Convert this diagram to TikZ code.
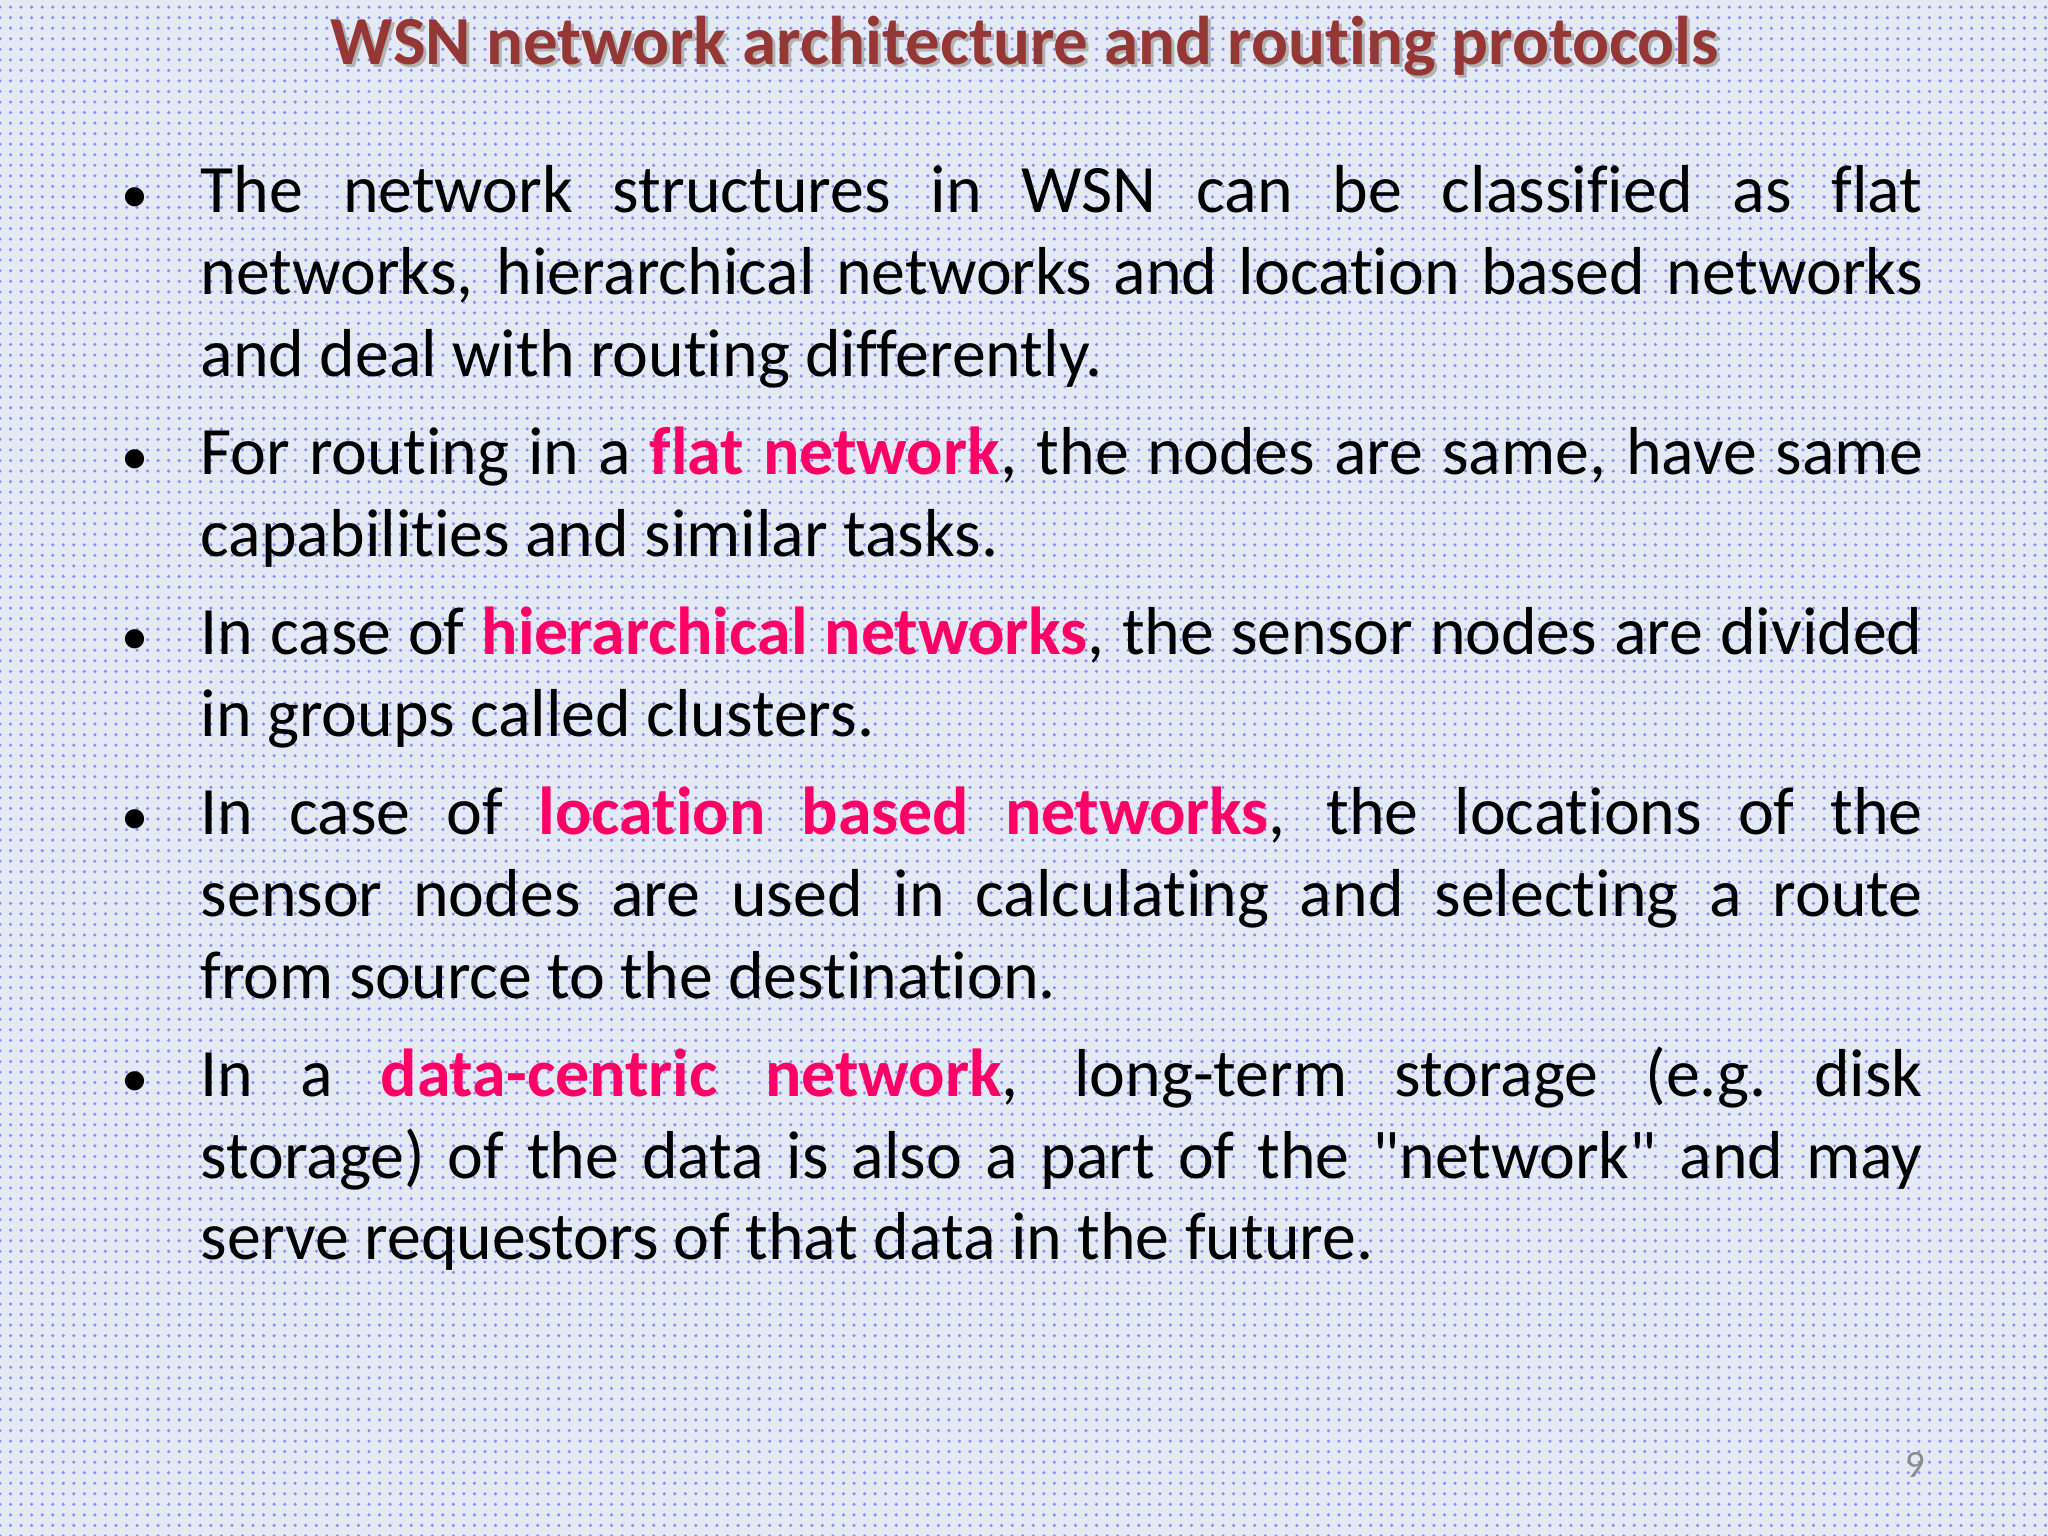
\documentclass[tikz,border=0pt]{standalone}
\usepackage{fontspec}
\setmainfont{Carlito}[Ligatures=NoCommon]
\newfontfamily\plainf{Carlito}[Ligatures=TeXOff]
\usetikzlibrary{patterns}
\definecolor{ttl}{HTML}{953735}
\definecolor{hl}{HTML}{FF0066}
\definecolor{bgc}{HTML}{E3EAF4}
\newcommand{\hlt}[1]{\textbf{\color{hl}#1}}
\newcommand{\mybl}[1]{\llap{\scalebox{0.8}{#1}\hspace{0.52cm}}}
\tikzset{body/.style={anchor=north west,text width=17.87cm,align=justify,inner sep=0pt,font=\fontsize{19.3pt}{23.3pt}\selectfont}}
\begin{document}
\begin{tikzpicture}
\useasboundingbox (0,0) rectangle (20.48,15.36);
\fill[bgc] (0,0) rectangle (20.48,15.36);
\fill[pattern=dots,pattern color=blue!45] (0,0) rectangle (20.48,15.36);
\node[font=\bfseries\fontsize{19.6pt}{22pt}\selectfont,text=black!30] (tshadow) at (10.28,14.87) {WSN network architecture and routing protocols};
\node[font=\bfseries\fontsize{19.6pt}{22pt}\selectfont,text=ttl] (title) at (10.25,14.90) {WSN network architecture and routing protocols};
\node[body] (txt) at (1.35,14.06) {\hyphenpenalty=10000\exhyphenpenalty=10000%
\begin{list}{\textbullet}{\setlength{\leftmargin}{0.65cm}\setlength{\labelwidth}{0pt}\setlength{\labelsep}{0pt}\let\makelabel\mybl\setlength{\itemsep}{4.6pt}\setlength{\parsep}{0pt}\setlength{\topsep}{0pt}}
\item The network structures in WSN can be classified as flat networks, hierarchical networks and location based networks and deal with routing differently.
\item For routing in a \hlt{flat network}, the nodes are same, have same capabilities and similar tasks.
\item In case of \hlt{hierarchical networks}, the sensor nodes are divided in groups called clusters.
\item In case of \hlt{location based networks}, the locations of the\linebreak sensor nodes are used in calculating and selecting a route\linebreak from source to the destination.
\item In a \hlt{data-centric network}, long-term storage (e.g.\ disk\linebreak storage) of the data is also a part of the {\plainf"}network{\plainf"} and may\linebreak serve requestors of that data in the future.
\end{list}};
\node[font=\fontsize{11pt}{12pt}\selectfont,text=black!45] (pg) at (19.15,0.71) {9};
\end{tikzpicture}
\end{document}
